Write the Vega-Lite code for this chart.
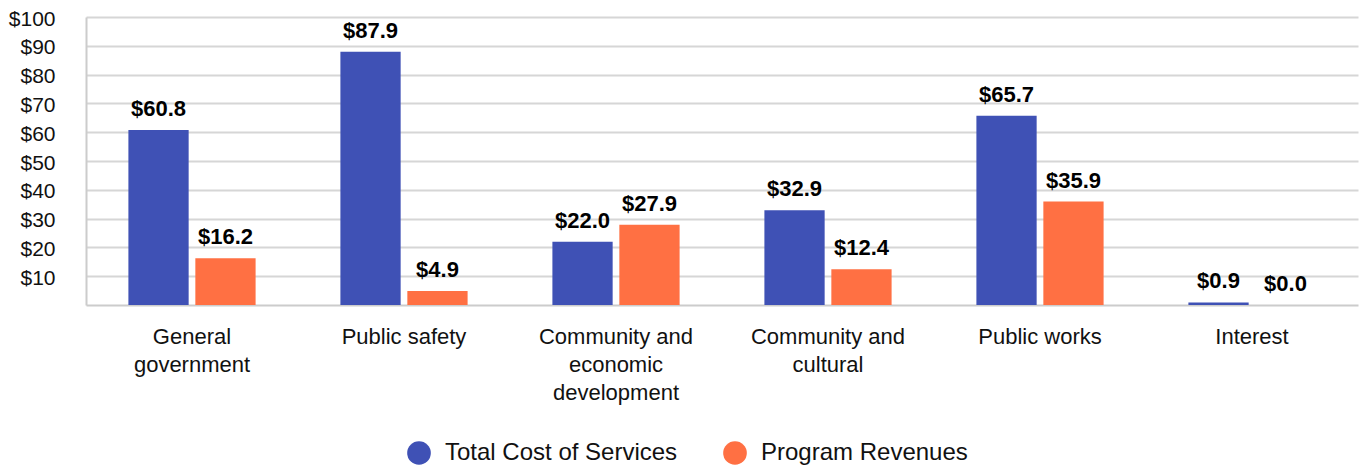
{
  "$schema": "https://vega.github.io/schema/vega-lite/v6.json",
  "autosize": {"type": "none"},
  "width": 1272,
  "height": 288,
  "padding": {"left": 86, "top": 17, "right": 2, "bottom": 162},
  "background": "white",
  "config": {
    "font": "Liberation Sans",
    "view": {"stroke": null}
  },
  "data": {
    "values": [
      {"category": "General government", "series": "Total Cost of Services", "value": 60.8},
      {"category": "General government", "series": "Program Revenues", "value": 16.2},
      {"category": "Public safety", "series": "Total Cost of Services", "value": 87.9},
      {"category": "Public safety", "series": "Program Revenues", "value": 4.9},
      {"category": "Community and economic development", "series": "Total Cost of Services", "value": 22.0},
      {"category": "Community and economic development", "series": "Program Revenues", "value": 27.9},
      {"category": "Community and cultural", "series": "Total Cost of Services", "value": 32.9},
      {"category": "Community and cultural", "series": "Program Revenues", "value": 12.4},
      {"category": "Public works", "series": "Total Cost of Services", "value": 65.7},
      {"category": "Public works", "series": "Program Revenues", "value": 35.9},
      {"category": "Interest", "series": "Total Cost of Services", "value": 0.9},
      {"category": "Interest", "series": "Program Revenues", "value": 0.0}
    ]
  },
  "encoding": {
    "x": {
      "field": "category",
      "type": "nominal",
      "sort": null,
      "scale": {"paddingInner": 0.4, "paddingOuter": 0.2},
      "axis": {
        "title": null,
        "labelAngle": 0,
        "labelFontSize": 22,
        "labelColor": "#111111",
        "labelPadding": 21,
        "labelLineHeight": 28,
        "labelBaseline": "top",
        "ticks": false,
        "domainColor": "#cccccc",
        "domainWidth": 2,
        "labelExpr": "datum.value == 'General government' ? ['General','government'] : datum.value == 'Community and economic development' ? ['Community and','economic','development'] : datum.value == 'Community and cultural' ? ['Community and','cultural'] : datum.value"
      }
    },
    "xOffset": {
      "field": "series",
      "type": "nominal",
      "sort": ["Total Cost of Services", "Program Revenues"],
      "scale": {"paddingInner": 0.1, "paddingOuter": 0}
    },
    "y": {
      "field": "value",
      "type": "quantitative",
      "scale": {"domain": [0, 100], "nice": false},
      "axis": {
        "title": null,
        "values": [10, 20, 30, 40, 50, 60, 70, 80, 90, 100],
        "format": "$d",
        "labelFontSize": 21,
        "labelColor": "#111111",
        "labelPadding": 31,
        "labelOffset": 2,
        "ticks": false,
        "gridColor": "#d6d6d6",
        "gridWidth": 2,
        "domainColor": "#cccccc",
        "domainWidth": 2
      }
    }
  },
  "layer": [
    {
      "mark": {"type": "bar"},
      "encoding": {
        "color": {
          "field": "series",
          "type": "nominal",
          "sort": ["Total Cost of Services", "Program Revenues"],
          "scale": {"domain": ["Total Cost of Services", "Program Revenues"], "range": ["#3f51b5", "#ff7043"]},
          "legend": {
            "title": null,
            "orient": "none",
            "legendX": 321,
            "legendY": 424,
            "direction": "horizontal",
            "symbolType": "circle",
            "symbolSize": 560,
            "symbolStrokeWidth": 0,
            "labelFontSize": 24,
            "labelLimit": 500,
            "labelColor": "#111111",
            "labelOffset": 14,
            "columnPadding": 45,
            "padding": 0
          }
        }
      }
    },
    {
      "mark": {"type": "text", "baseline": "alphabetic", "dy": -14, "fontSize": 22, "fontWeight": "bold", "color": "#000000"},
      "encoding": {
        "text": {"field": "value", "type": "quantitative", "format": "$.1f"}
      }
    }
  ]
}
